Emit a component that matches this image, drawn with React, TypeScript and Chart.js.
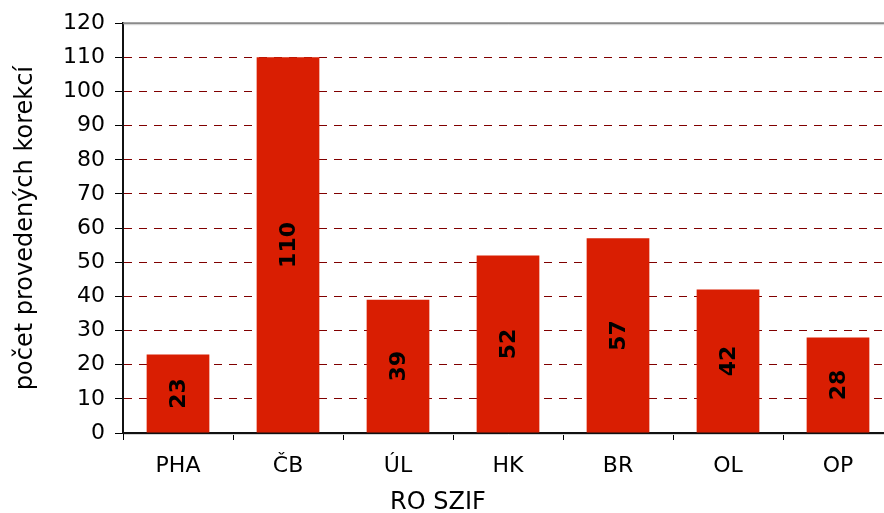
import { useEffect, useRef } from "react";
import { Chart, registerables } from "chart.js";

Chart.register(...registerables);

const categories = ["PHA", "ČB", "ÚL", "HK", "BR", "OL", "OP"];
const values = [23, 110, 39, 52, 57, 42, 28];
const yMin = 0;
const yMax = 120;
const yStep = 10;
const yTitle = "počet provedených korekcí";
const xTitle = "RO SZIF";

const FONT = "'DejaVu Sans', Verdana, sans-serif";
const BAR_COLOR = "#D91E02";
const GRID_COLOR = "#800000";

const barLabels = {
  id: "barLabels",
  afterDatasetsDraw(chart: any) {
    const ctx = chart.ctx;
    const meta = chart.getDatasetMeta(0);
    ctx.save();
    ctx.fillStyle = "#000";
    ctx.font = `bold 22px ${FONT}`;
    ctx.textAlign = "center";
    ctx.textBaseline = "middle";
    meta.data.forEach((el: any, i: number) => {
      const cy = (el.y + el.base) / 2;
      ctx.save();
      ctx.translate(el.x, cy);
      ctx.rotate(-Math.PI / 2);
      ctx.fillText(String(values[i]), 0, 1);
      ctx.restore();
    });
    ctx.restore();
  },
};

const frame = {
  id: "frame",
  afterDraw(chart: any) {
    const { ctx, chartArea } = chart;
    ctx.save();
    ctx.strokeStyle = "#8a8a8a";
    ctx.lineWidth = 2;
    ctx.beginPath();
    ctx.moveTo(chartArea.left, chartArea.top);
    ctx.lineTo(chartArea.right, chartArea.top);
    ctx.stroke();
    ctx.strokeStyle = "#d4d4d4";
    ctx.lineWidth = 1;
    ctx.beginPath();
    ctx.moveTo(chartArea.left + 1, chartArea.top + 1.5);
    ctx.lineTo(chartArea.right, chartArea.top + 1.5);
    ctx.moveTo(chartArea.left + 1, chartArea.bottom + 1.5);
    ctx.lineTo(chartArea.right, chartArea.bottom + 1.5);
    ctx.stroke();
    // x axis title
    ctx.fillStyle = "#000";
    ctx.font = `24px ${FONT}`;
    ctx.textAlign = "center";
    ctx.textBaseline = "middle";
    ctx.fillText(xTitle, 438, 503);
    ctx.restore();
  },
};

export default function App() {
  const ref = useRef<HTMLCanvasElement>(null);
  useEffect(() => {
    document.body.style.margin = "0";
    const chart = new Chart(ref.current as HTMLCanvasElement, {
      type: "bar",
      data: {
        labels: categories,
        datasets: [
          {
            data: values,
            backgroundColor: BAR_COLOR,
            borderWidth: 0,
            barPercentage: 0.57,
            categoryPercentage: 1,
          },
        ],
      },
      options: {
        animation: false,
        responsive: false,
        devicePixelRatio: 1,
        layout: { padding: { top: 22, right: 7, left: 0, bottom: 0 } },
        plugins: { legend: { display: false }, tooltip: { enabled: false } },
        font: { family: FONT },
        scales: {
          x: {
            offset: true,
            afterFit: (s: any) => {
              s.height = 80;
            },
            grid: {
              drawOnChartArea: false,
              drawTicks: true,
              tickLength: 7,
              tickColor: "#000",
              color: "#000",
            },
            border: { display: true, color: "#111", width: 2 },
            ticks: {
              color: "#000",
              font: { family: FONT, size: 22 },
              padding: 13,
            },
          },
          y: {
            min: yMin,
            max: yMax,
            afterFit: (s: any) => {
              s.width = 123;
            },
            ticks: {
              stepSize: yStep,
              color: "#000",
              font: { family: FONT, size: 22 },
              padding: 10,
            },
            grid: {
              color: (c: any) =>
                c.tick && c.tick.value === yMax ? "rgba(0,0,0,0)" : GRID_COLOR,
              tickColor: "#000",
              tickLength: 8,
              tickBorderDash: [],
              lineWidth: 1,
            },
            border: { display: true, color: "#111", width: 2, dash: [8, 7] },
            title: {
              display: true,
              text: yTitle,
              color: "#000",
              font: { family: FONT, size: 24 },
              padding: { top: 11, bottom: 0 },
            },
          },
        },
      },
      plugins: [barLabels, frame],
    } as any);
    return () => chart.destroy();
  }, []);
  return (
    <div style={{ width: 884, height: 513, overflow: "hidden", position: "relative" }}>
      <canvas ref={ref} width={900} height={513} style={{ display: "block" }} />
    </div>
  );
}
